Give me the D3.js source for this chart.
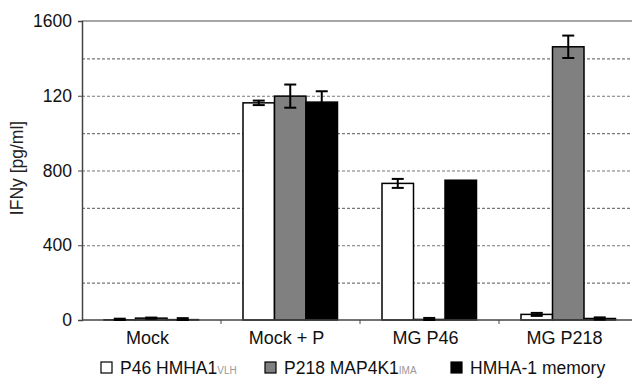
<!DOCTYPE html>
<html>
<head>
<meta charset="utf-8">
<script src="https://cdn.jsdelivr.net/npm/d3@7"></script>
<style>
  body { margin: 0; background: #fff; }
  svg text { font-family: "Liberation Sans", Arial, sans-serif; }
</style>
</head>
<body>
<svg width="632" height="379"></svg>
<script>
var groups = ["Mock", "Mock + P", "MG P46", "MG P218"];
var seriesNames = ["P46 HMHA1", "P218 MAP4K1", "HMHA-1 memory"];
var seriesSubs = ["VLH", "IMA", ""];
var seriesFill = ["#ffffff", "#808080", "#000000"];
// values per series, one per group
var p46 = [1, 1162, 731, 30];
var p218 = [10, 1198, 3, 1462];
var memory = [2, 1166, 748, 8];
// error (+/-)
var p46Err = [6, 12, 24, 8];
var p218Err = [3, 62, 8, 60];
var memoryErr = [8, 58, 0, 6];
var yTicks = [0, 400, 800, 1200, 1600];
var yTickLabels = ["0", "400", "800", "120", "1600"];

var values = [p46, p218, memory];
var errs = [p46Err, p218Err, memoryErr];

var svg = d3.select("svg");
var mLeft = 82, mTop = 21, mBottom = 320, mRight = 638;

var x0 = d3.scaleBand().domain(groups).range([mLeft, mRight]).paddingInner(0).paddingOuter(0);
var x1 = d3.scaleBand().domain(d3.range(3)).range([22, 22 + 3 * 31.5]);
var y = d3.scaleLinear().domain([0, 1600]).range([mBottom, mTop]);

// gridlines
svg.append("g").selectAll("line")
    .data(d3.range(200, 1600, 200))
    .enter().append("line")
    .attr("x1", mLeft).attr("x2", 632)
    .attr("y1", function(d) { return y(d) + 0.5; })
    .attr("y2", function(d) { return y(d) + 0.5; })
    .attr("stroke", "#777")
    .attr("stroke-width", 1.2)
    .attr("stroke-dasharray", "3,2");

// top border
svg.append("line")
    .attr("x1", mLeft).attr("x2", 632)
    .attr("y1", y(1600)).attr("y2", y(1600))
    .attr("stroke", "#888").attr("stroke-width", 1.5);

// y axis
var yAxis = d3.axisLeft(y).tickValues(yTicks)
    .tickFormat(function(d, i) { return yTickLabels[i]; })
    .tickSize(4).tickPadding(6);
var ya = svg.append("g").attr("transform", "translate(" + mLeft + ",0)").call(yAxis);
ya.select(".domain").attr("stroke", "#444").attr("stroke-width", 1.5);
ya.selectAll(".tick line").attr("stroke", "#444");
ya.selectAll("text").attr("font-size", 17.5).attr("fill", "#111")
    .style("font-family", "Liberation Sans, Arial, sans-serif");

svg.append("text")
    .attr("transform", "translate(23,168) rotate(-90)")
    .attr("text-anchor", "middle")
    .attr("font-size", 17.5)
    .attr("fill", "#222")
    .text("IFNy [pg/ml]");

// bars
var flat = [];
groups.forEach(function(g, gi) {
  for (var s = 0; s < 3; s++) {
    flat.push({ g: g, s: s, v: values[s][gi], e: errs[s][gi] });
  }
});

var bars = svg.append("g");
bars.selectAll("rect").data(flat).enter().append("rect")
    .attr("x", function(d) { return x0(d.g) + x1(d.s); })
    .attr("width", x1.bandwidth())
    .attr("y", function(d) { return y(d.v); })
    .attr("height", function(d) { return y(0) - y(d.v); })
    .attr("fill", function(d) { return seriesFill[d.s]; })
    .attr("stroke", "#000")
    .attr("stroke-width", 1.5);

// x axis
var xa = svg.append("g");
xa.append("line").attr("x1", mLeft).attr("x2", 632)
    .attr("y1", mBottom).attr("y2", mBottom)
    .attr("stroke", "#444").attr("stroke-width", 1.5);
xa.selectAll(".xt").data(groups.slice(1)).enter().append("line")
    .attr("x1", function(d) { return x0(d); })
    .attr("x2", function(d) { return x0(d); })
    .attr("y1", mBottom).attr("y2", mBottom + 4)
    .attr("stroke", "#444");
xa.selectAll("text").data(groups).enter().append("text")
    .attr("x", function(d) { return x0(d) + x0.bandwidth() / 2 - 4; })
    .attr("y", 344)
    .attr("text-anchor", "middle")
    .attr("font-size", 18)
    .attr("fill", "#111")
    .text(function(d) { return d; });

// error bars
var eb = svg.append("g").attr("stroke", "#000").attr("stroke-width", 2);
flat.filter(function(d) { return d.e > 0; }).forEach(function(d) {
  var cx = x0(d.g) + x1(d.s) + x1.bandwidth() / 2;
  eb.append("line").attr("x1", cx).attr("x2", cx)
      .attr("y1", y(d.v + d.e)).attr("y2", y(Math.max(0, d.v - d.e)));
  eb.append("line").attr("x1", cx - 6).attr("x2", cx + 6)
      .attr("y1", y(d.v + d.e)).attr("y2", y(d.v + d.e));
  eb.append("line").attr("x1", cx - 6).attr("x2", cx + 6)
      .attr("y1", y(Math.max(0, d.v - d.e))).attr("y2", y(Math.max(0, d.v - d.e)));
});

// legend
var legX = [101, 265, 451];
var leg = svg.append("g");
seriesNames.forEach(function(name, i) {
  leg.append("rect").attr("x", legX[i]).attr("y", 362)
      .attr("width", 11).attr("height", 11)
      .attr("fill", seriesFill[i]).attr("stroke", "#000").attr("stroke-width", 1.2);
  var t = leg.append("text").attr("x", legX[i] + 19).attr("y", 374)
      .attr("font-size", 17.5).attr("fill", "#111");
  t.append("tspan").text(name);
  if (seriesSubs[i]) {
    t.append("tspan").attr("font-size", 10).attr("fill", "#999").text(seriesSubs[i]);
  }
});
</script>
</body>
</html>
